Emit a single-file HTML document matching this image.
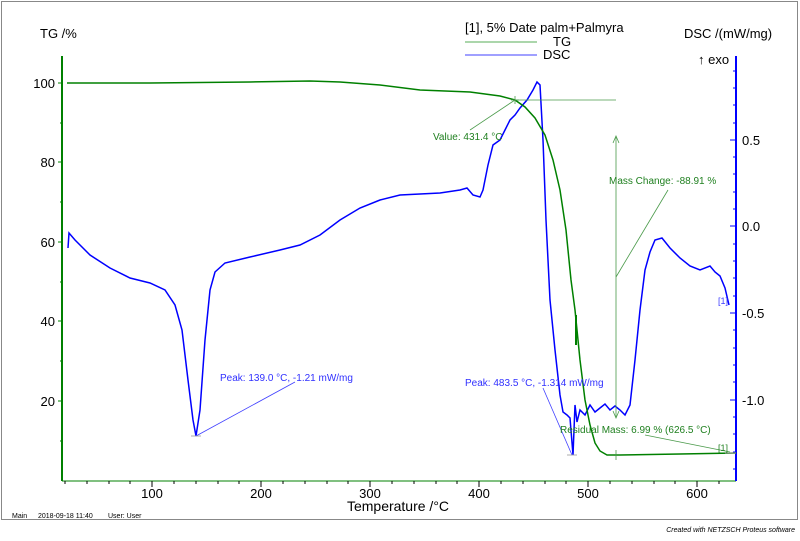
<!DOCTYPE html>
<html><head><meta charset="utf-8"><style>
body{margin:0;background:#fff;width:800px;height:536px;overflow:hidden}
svg{font-family:"Liberation Sans",sans-serif}
</style></head><body>
<svg width="800" height="536" viewBox="0 0 800 536">
<rect x="1.5" y="1.5" width="796" height="518" fill="#fff" stroke="#888" stroke-width="1"/>
<line x1="62" y1="56" x2="62" y2="481" stroke="#008000" stroke-width="2"/>
<line x1="62" y1="481" x2="736" y2="481" stroke="#008000" stroke-width="1"/>
<line x1="736" y1="56" x2="736" y2="481" stroke="#0000ff" stroke-width="2"/>
<g stroke="#008000" stroke-width="1">
<line x1="58" y1="83" x2="62" y2="83"/><line x1="58" y1="162" x2="62" y2="162"/><line x1="58" y1="242" x2="62" y2="242"/><line x1="58" y1="321" x2="62" y2="321"/><line x1="58" y1="401" x2="62" y2="401"/>
<line x1="60" y1="123" x2="62" y2="123"/><line x1="60" y1="202" x2="62" y2="202"/><line x1="60" y1="282" x2="62" y2="282"/><line x1="60" y1="361" x2="62" y2="361"/><line x1="60" y1="441" x2="62" y2="441"/>
</g>
<g stroke="#000" stroke-width="1">
<line x1="152" y1="481" x2="152" y2="487"/><line x1="261" y1="481" x2="261" y2="487"/><line x1="370" y1="481" x2="370" y2="487"/><line x1="479" y1="481" x2="479" y2="487"/><line x1="588" y1="481" x2="588" y2="487"/><line x1="697" y1="481" x2="697" y2="487"/>
<line x1="65" y1="481" x2="65" y2="484"/><line x1="87" y1="481" x2="87" y2="484"/><line x1="109" y1="481" x2="109" y2="484"/><line x1="130" y1="481" x2="130" y2="484"/>
<line x1="174" y1="481" x2="174" y2="484"/><line x1="196" y1="481" x2="196" y2="484"/><line x1="218" y1="481" x2="218" y2="484"/><line x1="239" y1="481" x2="239" y2="484"/>
<line x1="283" y1="481" x2="283" y2="484"/><line x1="305" y1="481" x2="305" y2="484"/><line x1="327" y1="481" x2="327" y2="484"/><line x1="348" y1="481" x2="348" y2="484"/>
<line x1="392" y1="481" x2="392" y2="484"/><line x1="414" y1="481" x2="414" y2="484"/><line x1="436" y1="481" x2="436" y2="484"/><line x1="457" y1="481" x2="457" y2="484"/>
<line x1="501" y1="481" x2="501" y2="484"/><line x1="523" y1="481" x2="523" y2="484"/><line x1="545" y1="481" x2="545" y2="484"/><line x1="566" y1="481" x2="566" y2="484"/>
<line x1="610" y1="481" x2="610" y2="484"/><line x1="632" y1="481" x2="632" y2="484"/><line x1="654" y1="481" x2="654" y2="484"/><line x1="675" y1="481" x2="675" y2="484"/><line x1="719" y1="481" x2="719" y2="484"/>
</g>
<g stroke="#0000ff" stroke-width="1">
<line x1="730" y1="140" x2="736" y2="140"/><line x1="730" y1="226" x2="736" y2="226"/><line x1="730" y1="313" x2="736" y2="313"/><line x1="730" y1="400" x2="736" y2="400"/>
<line x1="733" y1="71" x2="736" y2="71"/><line x1="733" y1="88" x2="736" y2="88"/><line x1="733" y1="105" x2="736" y2="105"/><line x1="733" y1="123" x2="736" y2="123"/><line x1="733" y1="157" x2="736" y2="157"/><line x1="733" y1="174" x2="736" y2="174"/><line x1="733" y1="192" x2="736" y2="192"/><line x1="733" y1="209" x2="736" y2="209"/><line x1="733" y1="244" x2="736" y2="244"/><line x1="733" y1="261" x2="736" y2="261"/><line x1="733" y1="278" x2="736" y2="278"/><line x1="733" y1="296" x2="736" y2="296"/><line x1="733" y1="330" x2="736" y2="330"/><line x1="733" y1="348" x2="736" y2="348"/><line x1="733" y1="365" x2="736" y2="365"/><line x1="733" y1="382" x2="736" y2="382"/><line x1="733" y1="417" x2="736" y2="417"/><line x1="733" y1="434" x2="736" y2="434"/><line x1="733" y1="452" x2="736" y2="452"/><line x1="733" y1="469" x2="736" y2="469"/>
</g>
<g font-size="13" fill="#000">
<text x="55" y="88" text-anchor="end">100</text><text x="55" y="167" text-anchor="end">80</text><text x="55" y="247" text-anchor="end">60</text><text x="55" y="326" text-anchor="end">40</text><text x="55" y="406" text-anchor="end">20</text>
<text x="742" y="145">0.5</text><text x="742" y="231">0.0</text><text x="742" y="318">-0.5</text><text x="742" y="405">-1.0</text>
<text x="152" y="498" text-anchor="middle">100</text><text x="261" y="498" text-anchor="middle">200</text><text x="370" y="498" text-anchor="middle">300</text><text x="479" y="498" text-anchor="middle">400</text><text x="588" y="498" text-anchor="middle">500</text><text x="697" y="498" text-anchor="middle">600</text>
<text x="398" y="511" text-anchor="middle" font-size="14">Temperature /°C</text>
<text x="40" y="38">TG /%</text>
<text x="684" y="38">DSC /(mW/mg)</text>
<text x="698" y="64">↑ exo</text>
<text x="465" y="32">[1], 5% Date palm+Palmyra</text>
<text x="553" y="46">TG</text>
<text x="543" y="59">DSC</text>
</g>
<line x1="465" y1="42" x2="537" y2="42" stroke="#8fc88f" stroke-width="1.5"/>
<line x1="465" y1="55" x2="537" y2="55" stroke="#4040ff" stroke-width="1"/>
<text x="12" y="518" font-size="7" fill="#000">Main</text>
<text x="38" y="518" font-size="7" fill="#000">2018-09-18 11:40</text>
<text x="108" y="518" font-size="7" fill="#000">User: User</text>
<text x="795" y="532" font-size="7" font-style="italic" text-anchor="end" fill="#000">Created with NETZSCH Proteus software</text>
<polyline fill="none" stroke="#0000ff" stroke-width="1.5" points="68,248 69,233 75,240 90,255 110,268 130,278 150,283 165,290 175,305 182,330 188,380 193,420 196,436 200,410 205,340 210,290 215,272 225,263 250,257 280,250 300,245 320,235 340,220 360,208 380,200 400,195 420,194 440,193 460,190 467,188 473,195 480,197 483,190 488,165 493,145 500,140 505,130 510,120 515,115 520,108 527,100 533,90 537,82 540,85 543,140 546,220 550,300 555,350 560,395 563,412 567,415 570,418 573,455 575,405 577,422 580,410 585,415 590,405 595,412 600,408 605,404 610,410 615,406 620,410 625,415 630,405 635,360 640,310 645,270 650,252 655,240 662,238 670,248 680,258 690,266 700,270 710,266 715,272 720,276 725,288 729,305"/>
<polyline fill="none" stroke="#008000" stroke-width="1.5" points="67,83 150,83 250,82 310,81 340,82 380,85 420,90 470,92 500,96 515,100 525,107 535,118 545,135 553,160 560,190 566,230 571,280 575,310 580,360 585,400 590,425 595,443 600,451 607,455 620,455 680,454 736,453"/>
<line x1="576" y1="315" x2="576" y2="345" stroke="#008000" stroke-width="2"/>
<g stroke="#4a9a4a" stroke-width="0.8" fill="none">
<line x1="515" y1="100" x2="616" y2="100"/><line x1="515" y1="100" x2="470" y2="130"/>
<line x1="616" y1="136" x2="616" y2="418"/><line x1="616" y1="277" x2="668" y2="190"/>
<polyline points="613,143 616,136 619,143"/><polyline points="613,411 616,418 619,411"/>
<line x1="645" y1="435" x2="730" y2="452"/>
<line x1="511" y1="100" x2="519" y2="100"/><line x1="515" y1="96" x2="515" y2="104"/>
<line x1="616" y1="450" x2="616" y2="460"/>
</g>
<g stroke="#4040ff" stroke-width="0.8">
<line x1="196" y1="436" x2="295" y2="382"/><line x1="191" y1="436" x2="201" y2="436" stroke="#999"/>
<line x1="572" y1="455" x2="543" y2="388"/><line x1="567" y1="455" x2="577" y2="455" stroke="#999"/>
</g>
<line x1="725" y1="453" x2="736" y2="453" stroke="#999"/>
<g font-size="10">
<text x="433" y="140" fill="#208020">Value: 431.4 °C</text>
<text x="609" y="184" fill="#208020">Mass Change: -88.91 %</text>
<text x="560" y="433" fill="#208020">Residual Mass: 6.99 % (626.5 °C)</text>
<text x="718" y="451" fill="#208020" font-size="9">[1]</text>
<text x="718" y="304" fill="#4040ff" font-size="9">[1]</text>
<text x="220" y="381" fill="#3030ff">Peak: 139.0 °C, -1.21 mW/mg</text>
<text x="465" y="386" fill="#3030ff">Peak: 483.5 °C, -1.314 mW/mg</text>
</g>
</svg>
</body></html>
